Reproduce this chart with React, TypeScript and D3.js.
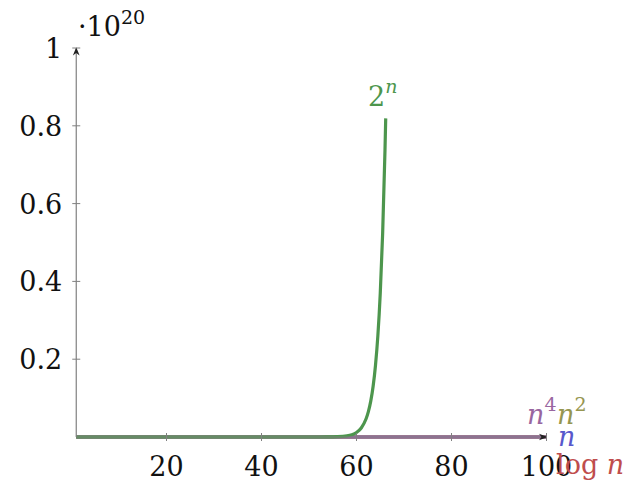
import React from "react";
import * as d3 from "d3";

const W = 632;
const H = 482;

// data (y in units of 1e20)
const nValues = [1, 20, 40, 60, 80, 100];
const logValues = [0, 0, 0, 0, 0, 0];
const linValues = [0, 0, 0, 0, 0, 0];
const sqValues = [0, 0, 0, 0, 0, 0];
const quartValues = [0, 0, 0, 0, 0, 0];
const expN = [1, 30, 50, 54, 56, 58, 59, 60, 61, 62, 62.5, 63, 63.5, 64, 64.5, 65, 65.5, 66, 66.15];
const expValues = [0, 0, 0.00001, 0.00018, 0.00072, 0.0029, 0.0058, 0.0115, 0.0231, 0.0461, 0.0652, 0.0922, 0.1304, 0.1845, 0.2609, 0.369, 0.5218, 0.738, 0.819];
const xTicks = [20, 40, 60, 80, 100];
const yTicks = [0.2, 0.4, 0.6, 0.8, 1];

const C = {
  red: "rgb(191,77,77)",
  blue: "rgb(88,88,204)",
  olive: "rgb(150,150,80)",
  purple: "rgb(153,102,160)",
  green: "rgb(77,150,77)",
  axis: "#808080",
};

const FONT = "DejaVu Serif, serif";

export default function App() {
  const x = d3.scaleLinear().domain([0, 100]).range([71.5, 546.5]);
  const y = d3.scaleLinear().domain([0, 1]).range([437, 48]);
  const line = d3
    .line<[number, number]>()
    .x((d) => x(d[0]))
    .y((d) => y(d[1]))
    .curve(d3.curveMonotoneX);

  const series = [
    { vals: logValues, xs: nValues, color: C.red },
    { vals: linValues, xs: nValues, color: C.blue },
    { vals: sqValues, xs: nValues, color: C.olive },
    { vals: quartValues, xs: nValues, color: C.purple },
    { vals: expValues, xs: expN, color: C.green },
  ];

  const x0 = x(1);
  const y0 = y(0);
  const fs = 27;
  const sfs = 19;

  return (
    <svg
      width={W}
      height={H}
      style={{ position: "absolute", left: 0, top: 0, background: "#fff", fontFamily: FONT }}
    >
      <defs>
        <marker id="arr" viewBox="0 0 10 10" refX="9" refY="5" markerWidth="7" markerHeight="7" orient="auto">
          <path d="M0,1 L10,5 L0,9 L3,5 Z" fill="#222" />
        </marker>
      </defs>
      {series.map((s, i) => (
        <path
          key={i}
          d={line(s.xs.map((v, j) => [v, s.vals[j]]) as [number, number][]) || ""}
          fill="none"
          stroke={s.color}
          strokeWidth={3.2}
          strokeLinejoin="round"
        />
      ))}
      <line x1={x0} y1={y0} x2={x(100)} y2={y0} stroke={C.axis} strokeWidth={1.2} markerEnd="url(#arr)" />
      <line x1={x0} y1={y0} x2={x0} y2={y(1)} stroke={C.axis} strokeWidth={1.2} markerEnd="url(#arr)" />
      {xTicks.map((t) => (
        <g key={t}>
          <line x1={x(t)} x2={x(t)} y1={y0 - 4} y2={y0 + 4} stroke={C.axis} strokeWidth={1} />
          <text x={x(t)} y={y0 + 39} textAnchor="middle" fontSize={fs} fill="#111">
            {t}
          </text>
        </g>
      ))}
      {yTicks.map((t) => (
        <g key={t}>
          <line x1={x0 - 4} x2={x0 + 4} y1={y(t)} y2={y(t)} stroke={C.axis} strokeWidth={1} />
          <text x={x0 - 14} y={y(t) + 10} textAnchor="end" fontSize={fs} fill="#111">
            {t}
          </text>
        </g>
      ))}
      <text x={78} y={36} fontSize={fs} fill="#111">
        ·10
        <tspan fontSize={sfs} dy={-12}>20</tspan>
      </text>
      <text x={368} y={106} fontSize={fs} fill={C.green}>
        2<tspan fontSize={sfs} fontStyle="italic" dy={-13}>n</tspan>
      </text>
      <text x={527} y={424} fontSize={fs} fill={C.purple} fontStyle="italic">
        n<tspan fontSize={sfs} fontStyle="normal" dy={-13}>4</tspan>
      </text>
      <text x={557} y={424} fontSize={fs} fill={C.olive} fontStyle="italic">
        n<tspan fontSize={sfs} fontStyle="normal" dy={-13}>2</tspan>
      </text>
      <text x={558} y={446} fontSize={fs} fill={C.blue} fontStyle="italic">
        n
      </text>
      <text x={556} y={474} fontSize={fs} fill={C.red}>
        log <tspan fontStyle="italic">n</tspan>
      </text>
    </svg>
  );
}
